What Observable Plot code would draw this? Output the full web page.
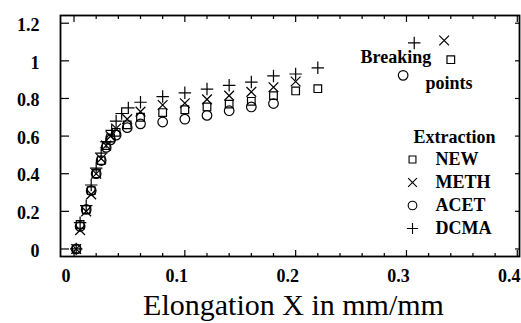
<!DOCTYPE html>
<html>
<head>
<meta charset="utf-8">
<script src="https://cdn.jsdelivr.net/npm/d3@7"></script>
<script src="https://cdn.jsdelivr.net/npm/@observablehq/plot@0.6"></script>
<style>
  html, body { margin: 0; padding: 0; background: #fff; }
  #chart svg { display: block; }
</style>
</head>
<body>
<div id="chart"></div>
<script>
// ---- data ----
const seriesNames = ["NEW", "METH", "ACET", "DCMA"];
const seriesSymbols = ["square", "times", "circle", "plus"];

const newX  = [0.002, 0.0055, 0.011, 0.0155, 0.02, 0.0245, 0.029, 0.033, 0.038, 0.048, 0.06, 0.08, 0.10, 0.12, 0.14, 0.16, 0.18, 0.20, 0.22, 0.34];
const newY  = [0, 0.13, 0.21, 0.31, 0.40, 0.47, 0.55, 0.59, 0.62, 0.66, 0.70, 0.725, 0.74, 0.755, 0.77, 0.785, 0.815, 0.84, 0.852, 1.006];

const methX = [0.002, 0.0055, 0.011, 0.0155, 0.02, 0.0245, 0.029, 0.033, 0.038, 0.048, 0.06, 0.08, 0.10, 0.12, 0.14, 0.16, 0.18, 0.20, 0.334];
const methY = [0, 0.10, 0.20, 0.29, 0.40, 0.48, 0.55, 0.60, 0.64, 0.69, 0.73, 0.765, 0.775, 0.795, 0.815, 0.835, 0.86, 0.89, 1.108];

const acetX = [0.002, 0.0055, 0.011, 0.0155, 0.02, 0.0245, 0.029, 0.033, 0.038, 0.048, 0.06, 0.08, 0.10, 0.12, 0.14, 0.16, 0.18, 0.297];
const acetY = [0, 0.12, 0.21, 0.31, 0.40, 0.47, 0.54, 0.58, 0.605, 0.645, 0.665, 0.675, 0.69, 0.71, 0.735, 0.755, 0.773, 0.923];

const dcmaX = [0.002, 0.0055, 0.011, 0.0155, 0.02, 0.0245, 0.029, 0.034, 0.038, 0.043, 0.049, 0.06, 0.08, 0.10, 0.12, 0.14, 0.16, 0.18, 0.20, 0.22, 0.307];
const dcmaY = [0, 0.14, 0.23, 0.34, 0.43, 0.51, 0.57, 0.63, 0.68, 0.72, 0.75, 0.78, 0.81, 0.83, 0.85, 0.87, 0.887, 0.92, 0.93, 0.963, 1.095];

const xMajorTicks = [0, 0.1, 0.2, 0.3, 0.4];
const xTickLabels = ["0", "0.1", "0.2", "0.3", "0.4"];
const xMinorTicks = [0.02, 0.04, 0.06, 0.08, 0.12, 0.14, 0.16, 0.18, 0.22, 0.24, 0.26, 0.28, 0.32, 0.34, 0.36, 0.38];
const yTicks = [0, 0.2, 0.4, 0.6, 0.8, 1, 1.2];
const yTickLabels = ["0", "0.2", "0.4", "0.6", "0.8", "1", "1.2"];

const xTitle = "Elongation X in mm/mm";
const legendTitle = "Extraction";
const annotation1 = "Breaking";
const annotation2 = "points";

// ---- build table ----
const xs = [newX, methX, acetX, dcmaX];
const ys = [newY, methY, acetY, dcmaY];
const table = seriesNames.flatMap((name, i) =>
  xs[i].map((x, j) => ({series: name, symbol: seriesSymbols[i], x, y: ys[i][j]})));

const serif = "'Liberation Serif', 'Times New Roman', 'DejaVu Serif', serif";
const sizes = {square: 4.3, times: 4.5, circle: 4.8, plus: 4.1};
const blank = () => "";

const dotMarks = seriesNames.map((name, i) =>
  Plot.dot(table.filter(d => d.series === name), {
    x: "x", y: "y", symbol: () => seriesSymbols[i],
    r: sizes[seriesSymbols[i]], stroke: "black", fill: "none", strokeWidth: 1.2
  }));

const legendMarks = seriesNames.flatMap((name, i) => [
  Plot.dot([name], {
    frameAnchor: "top-left", dx: 352, dy: 144 + i * 23,
    symbol: () => seriesSymbols[i], r: sizes[seriesSymbols[i]] * 0.9,
    stroke: "black", fill: "none", strokeWidth: 1.1
  }),
  Plot.text([name], {
    frameAnchor: "top-left", dx: 375, dy: 144 + i * 23, text: d => d,
    textAnchor: "start", lineAnchor: "middle", fontSize: 18, fontWeight: "bold", fill: "black"
  })
]);

const chart = Plot.plot({
  width: 521,
  height: 323,
  marginLeft: 60,
  marginRight: 2,
  marginTop: 15,
  marginBottom: 67,
  style: {fontFamily: serif, fontSize: "18px", fontWeight: "bold", color: "black", background: "white"},
  x: {domain: [-0.0122, 0.402], label: null},
  y: {domain: [-0.04, 1.241], label: null},
  marks: [
    // tick labels
    Plot.axisX(xMajorTicks, {anchor: "bottom", tickSize: 0, tickPadding: 13, dx: -8,
      tickFormat: d => xTickLabels[xMajorTicks.indexOf(d)], label: null, fontSize: 18, fontWeight: "bold"}),
    Plot.axisY(yTicks, {anchor: "left", tickSize: 0, tickPadding: 21, dy: 2,
      tickFormat: d => yTickLabels[yTicks.indexOf(d)], label: null, fontSize: 18, fontWeight: "bold"}),
    // inward ticks
    Plot.axisX(xMajorTicks, {anchor: "bottom", tickSize: -6, tickFormat: blank, label: null, strokeWidth: 1.2}),
    Plot.axisX(xMinorTicks, {anchor: "bottom", tickSize: -3, tickFormat: blank, label: null, strokeWidth: 1.2}),
    Plot.axisX(xMajorTicks, {anchor: "top", tickSize: -6, tickFormat: blank, label: null, strokeWidth: 1.2}),
    Plot.axisX(xMinorTicks, {anchor: "top", tickSize: -3, tickFormat: blank, label: null, strokeWidth: 1.2}),
    Plot.axisY(yTicks, {anchor: "left", tickSize: -9, tickFormat: blank, label: null, strokeWidth: 1.2}),
    Plot.axisY(yTicks, {anchor: "right", tickSize: -5, tickFormat: blank, label: null, strokeWidth: 1.2}),
    Plot.frame({stroke: "black", strokeWidth: 1.8}),
    ...dotMarks,
    // annotations
    Plot.text([annotation1], {frameAnchor: "top-left", dx: 300, dy: 42, text: d => d,
      textAnchor: "start", lineAnchor: "middle", fontSize: 18, fontWeight: "bold", fill: "black"}),
    Plot.text([annotation2], {frameAnchor: "top-left", dx: 365, dy: 68, text: d => d,
      textAnchor: "start", lineAnchor: "middle", fontSize: 18, fontWeight: "bold", fill: "black"}),
    Plot.text([legendTitle], {frameAnchor: "top-left", dx: 353, dy: 122, text: d => d,
      textAnchor: "start", lineAnchor: "middle", fontSize: 18, fontWeight: "bold", fill: "black"}),
    ...legendMarks,
    // x title
    Plot.text([xTitle], {frameAnchor: "bottom", dx: 3.5, dy: 49, text: d => d,
      textAnchor: "middle", lineAnchor: "middle", fontSize: 30, fontWeight: "normal", fill: "black"})
  ]
});
document.getElementById("chart").appendChild(chart);
</script>
</body>
</html>
